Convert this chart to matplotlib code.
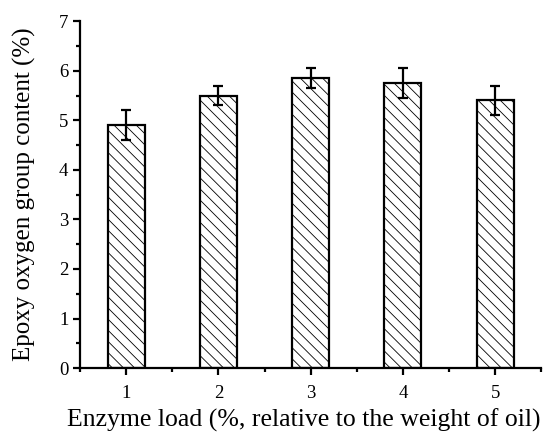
import numpy as np
import matplotlib
matplotlib.use("Agg")
import matplotlib.pyplot as plt
from matplotlib.ticker import MultipleLocator

## Data
enzyme_load = [1, 2, 3, 4, 5]
epoxy_content = [4.9, 5.5, 5.85, 5.75, 5.4]
epoxy_err = [0.3, 0.2, 0.2, 0.3, 0.3]

plt.rcParams['font.family'] = ['Liberation Serif', 'DejaVu Serif']
plt.rcParams['hatch.linewidth'] = 0.6
plt.rcParams['hatch.color'] = '#333333'

fig = plt.figure(figsize=(5.45, 4.32), dpi=100)
ax = fig.add_axes([0.147, 0.148, 0.846, 0.803])

ax.bar(enzyme_load, epoxy_content, width=0.4, color='white', edgecolor='black',
       linewidth=1.6, hatch='\\\\\\', zorder=2)
ax.errorbar(enzyme_load, epoxy_content, yerr=epoxy_err, fmt='none', ecolor='black',
            elinewidth=1.6, capsize=3.6, capthick=1.6, zorder=3)

ax.set_xlim(0.5, 5.5)
ax.set_ylim(0, 7)
ax.xaxis.set_major_locator(MultipleLocator(1))
ax.xaxis.set_minor_locator(MultipleLocator(0.5))
ax.yaxis.set_major_locator(MultipleLocator(1))
ax.yaxis.set_minor_locator(MultipleLocator(0.5))

for s in ['top', 'right']:
    ax.spines[s].set_visible(False)
for s in ['left', 'bottom']:
    ax.spines[s].set_linewidth(1.6)

ax.tick_params(which='major', direction='out', length=5, width=1.6, labelsize=13.5)
ax.tick_params(which='minor', direction='out', length=3, width=1.6)
ax.tick_params(axis='x', which='major', pad=7)

ax.set_xlabel('Enzyme load (%, relative to the weight of oil)', fontsize=18.5)
ax.set_ylabel('Epoxy oxygen group content (%)', fontsize=18)
ax.xaxis.set_label_coords(0.485, -0.118)
ax.yaxis.set_label_coords(-0.095, 0.5)

fig.savefig('out.png', dpi=100)
